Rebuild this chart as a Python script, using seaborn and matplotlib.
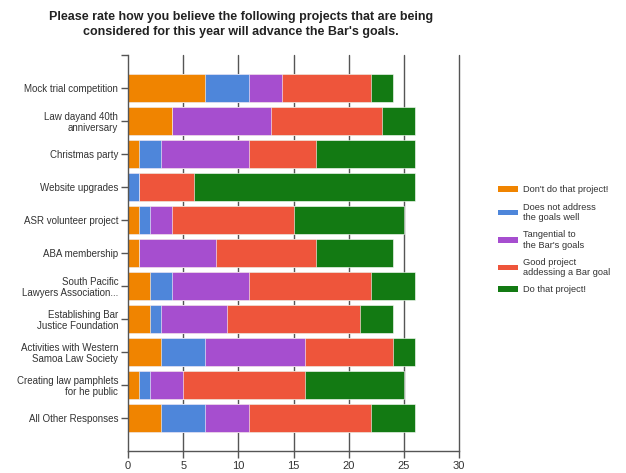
import matplotlib
matplotlib.use("Agg")
import matplotlib.pyplot as plt
import seaborn as sns
import numpy as np
import pandas as pd
from matplotlib.patches import Patch

categories = [
    "Mock trial competition",
    "Law dayand 40th\nanniversary",
    "Christmas party",
    "Website upgrades",
    "ASR volunteer project",
    "ABA membership",
    "South Pacific\nLawyers Association...",
    "Establishing Bar\nJustice Foundation",
    "Activities with Western\nSamoa Law Society",
    "Creating law pamphlets\nfor he public",
    "All Other Responses",
]
dont_do = [7, 4, 1, 0, 1, 1, 2, 2, 3, 1, 3]
not_address = [4, 0, 2, 1, 1, 0, 2, 1, 4, 1, 4]
tangential = [3, 9, 8, 0, 2, 7, 7, 6, 9, 3, 4]
good_project = [8, 10, 6, 5, 11, 9, 11, 12, 8, 11, 11]
do_project = [2, 3, 9, 20, 10, 7, 4, 3, 2, 9, 4]

series_names = [
    "Don't do that project!",
    "Does not address\nthe goals well",
    "Tangential to\nthe Bar's goals",
    "Good project\naddessing a Bar goal",
    "Do that project!",
]
colors = ["#F08400", "#4E86DA", "#A64ECF", "#EE553B", "#137A13"]

title = ("Please rate how you believe the following projects that are being\n"
         "considered for this year will advance the Bar's goals.")

sns.set_style("white")
plt.rcParams['font.family'] = ['Liberation Sans', 'DejaVu Sans']

fig = plt.figure(figsize=(6.26, 4.73), dpi=100)
ax = fig.add_axes([128/626, 22/473, (459-128)/626, (451-55)/473])

series = [dont_do, not_address, tangential, good_project, do_project]
cum = np.cumsum(np.array(series, dtype=float), axis=0)

# draw from the largest cumulative down so each segment shows
for i in range(len(series) - 1, -1, -1):
    df = pd.DataFrame({"cat": categories, "val": cum[i]})
    sns.barplot(data=df, y="cat", x="val", orient="h", color=colors[i],
                width=0.82, saturation=1, ax=ax, edgecolor="white",
                linewidth=0.4, order=categories)

ax.set_xlim(0, 30)
ax.set_ylim(len(categories), -1)
ax.set_xticks(range(0, 31, 5))
ax.set_xlabel("")
ax.set_ylabel("")
ax.set_yticks([-1], minor=True)
for x in range(5, 31, 5):
    ax.axvline(x, color="#555555", lw=1.0, zorder=0, clip_on=False)
ax.set_axisbelow(True)
for s in ["top", "right"]:
    ax.spines[s].set_visible(False)
for s in ["left", "bottom"]:
    ax.spines[s].set_color("#555555")
    ax.spines[s].set_linewidth(1.0)
ax.tick_params(axis="y", which="both", length=5, width=1, color="#555555",
               labelsize=7, labelcolor="#333333", pad=2, direction="out", left=True)
ax.tick_params(axis="x", length=5, width=1, color="#555555", labelsize=8,
               labelcolor="#333333", pad=2, direction="out", bottom=True)
for lbl in ax.get_yticklabels():
    lbl.set_linespacing(1.15)

fig.text(241/626, 1 - 11/473, title, ha="center", va="top", fontsize=9,
         fontweight="bold", color="#222222", linespacing=1.35)

handles = [Patch(facecolor=c, edgecolor="none") for c in colors]
leg = fig.legend(handles, series_names, loc="upper left",
                 bbox_to_anchor=(490/626, 1 - 177/473), frameon=False,
                 fontsize=6.7, handlelength=2.15, handleheight=0.55,
                 handletextpad=0.45, labelspacing=0.88)
for t in leg.get_texts():
    t.set_color("#333333")
    t.set_linespacing(1.2)

fig.savefig("out.png", dpi=100)
